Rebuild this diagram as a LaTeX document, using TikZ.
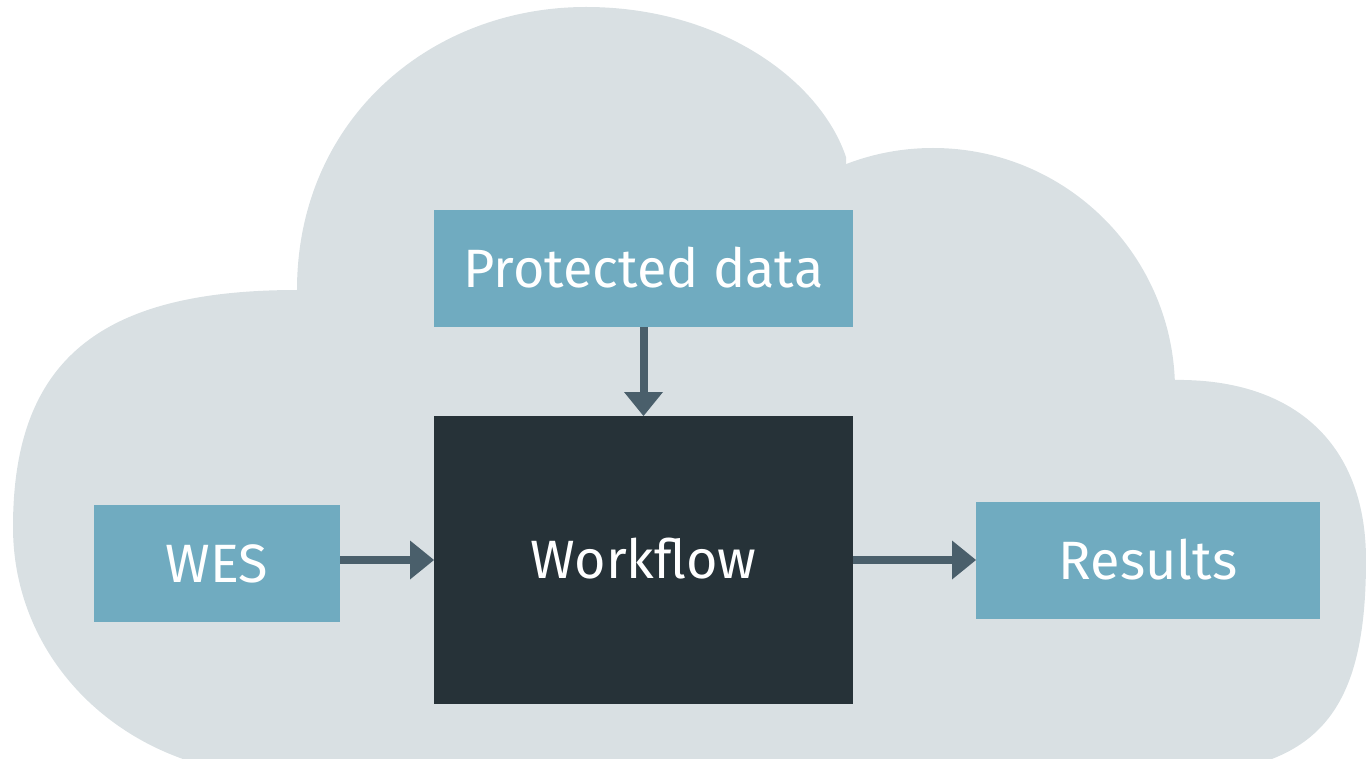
\documentclass[tikz,border=0pt]{standalone}
\usepackage{fontspec}
\setmainfont{Fira Sans}
\usetikzlibrary{arrows.meta}
\definecolor{cloudc}{HTML}{D9E0E3}
\definecolor{boxc}{HTML}{70ABC0}
\definecolor{wfc}{HTML}{263238}
\definecolor{arrc}{HTML}{4A5F6B}
\tikzset{
  lbl/.style={font=\fontsize{54}{60}\selectfont, text=white, text height=37.2pt, text depth=0pt, inner sep=0pt, outer sep=0pt},
  bluebox/.style={lbl, fill=boxc},
  darkbox/.style={lbl, fill=wfc},
  conn/.style={draw=arrc, line width=8pt, -{Triangle[width=39pt,length=24pt,line width=0pt]}},
  cloudfill/.style={fill=cloudc, draw=none}
}
\begin{document}
\begin{tikzpicture}[x=1pt,y=-1pt]
\useasboundingbox (0,0) rectangle (1366,759);
\begin{scope}
\clip (0,0) rectangle (1366,759);
% cloud
\path[cloudfill] (260,775) .. controls (120,765) and (13,660) .. (13,527)
  .. controls (13,360) and (100,290) .. (297,290) -- (297,780) -- cycle;
\path[cloudfill] (297,780) -- (297,290) .. controls (297,120) and (430,7) .. (586,7)
  .. controls (720,7) and (820,80) .. (846,157) -- (846,780) -- cycle;
\path[cloudfill] (933,390) circle[radius=242];
\path[cloudfill] (846,380) rectangle (1175,780);
\path[cloudfill] (1173,380) .. controls (1290,378) and (1366,440) .. (1366,560)
  .. controls (1366,710) and (1320,770) .. (1180,775) -- (1173,780) -- cycle;
\end{scope}
% boxes
\node[bluebox, minimum width=419pt, minimum height=117pt] (pd) at (643.5,268.5) {Protected data};
\node[darkbox, minimum width=419pt, minimum height=288pt] (wf) at (643.5,560) {Workflow};
\node[bluebox, minimum width=246pt, minimum height=117pt] (wes) at (217,563.5) {WES};
\node[bluebox, minimum width=344pt, minimum height=117pt] (res) at (1148,560.5) {Results};
% connectors
\draw[conn] (pd.south) -- (wf.north);
\draw[conn] (wes.east |- wf.west) -- (wf.west);
\draw[conn] (wf.east) -- (res.west |- wf.east);
\end{tikzpicture}
\end{document}
